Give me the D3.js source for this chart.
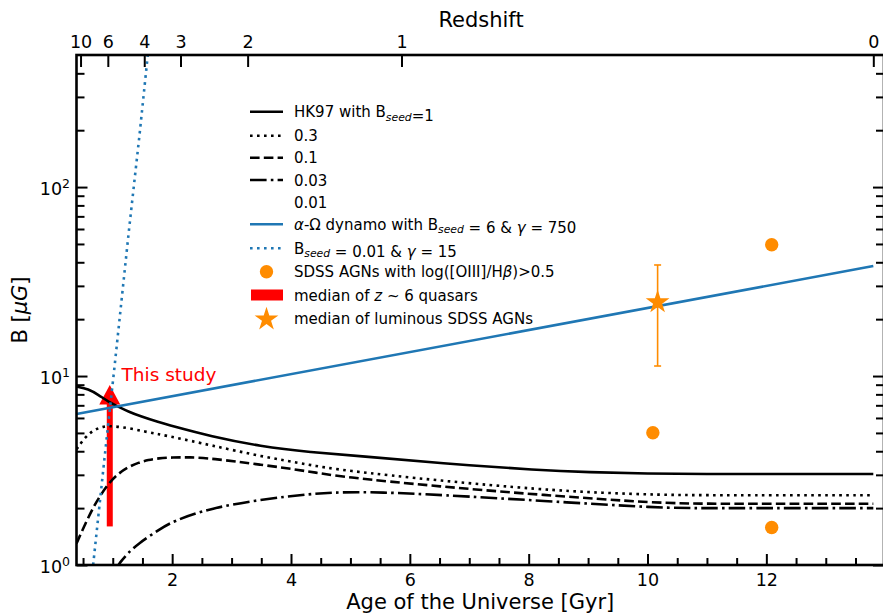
<!DOCTYPE html>
<html><head><meta charset="utf-8">
<script src="https://cdn.jsdelivr.net/npm/d3@7"></script>
<style>
body{margin:0;background:#fff}
svg{display:block;font-family:"DejaVu Sans",sans-serif}
</style>
</head><body>
<svg id="c" width="883" height="615"></svg>
<script>
// ---------------- data ----------------
const hk1Age  = [0.39,0.59,0.76,0.93,1.10,1.27,1.47,1.77,2.0,2.64,3.49,4.33,5.17,6.51,8.2,9.0,10.0,11.0,12.0,13.8];
const hk1B    = [8.8,8.55,7.95,7.3,6.87,6.47,6.12,5.7,5.44,4.8,4.24,3.95,3.77,3.45,3.17,3.1,3.04,3.03,3.03,3.03];
const hk03Age = [0.39,0.54,0.68,0.84,1.01,1.27,1.55,1.77,2.0,2.64,3.49,4.33,4.83,6.51,8.2,9.2,10.21,11,12,13.8];
const hk03B   = [4.1,4.77,5.18,5.42,5.44,5.3,5.08,4.92,4.77,4.31,3.76,3.38,3.18,2.79,2.51,2.41,2.35,2.34,2.34,2.34];
const hk01Age = [0.39,0.54,0.68,0.76,0.93,1.10,1.27,1.43,1.6,1.77,2.0,2.3,2.64,3.49,4.33,4.83,6.51,8.2,10.21,11,12,13.8];
const hk01B   = [1.3,1.66,2.04,2.25,2.71,3.06,3.31,3.48,3.6,3.67,3.71,3.72,3.67,3.4,3.12,2.93,2.60,2.35,2.12,2.11,2.11,2.11];
const hk003Age= [1.05,1.13,1.25,1.43,1.77,2.0,2.64,3.49,4.33,4.83,5.5,6.51,8.2,10.21,11,12,13.8];
const hk003B  = [0.95,1.04,1.15,1.3,1.53,1.7,2.0,2.22,2.38,2.43,2.43,2.35,2.19,2.0,2.0,2.0,2.0];
const dynAge  = [0.39,13.8];
const dynB    = [6.3,38.2];
const dyn2Age = [0.67,0.87,1.03,1.27,1.45,1.59,1.63];
const dyn2B   = [1.0,3.9,11.2,58,188,500,650];
const sdssAge = [12.09,10.09,12.09];
const sdssB   = [49.5,5.01,1.58];
const starAge = 10.17, starB = 24.6, starLo = 11.3, starHi = 38.7;
const qsoAge = 0.95, qsoFrom = 1.6, qsoTo = 8.96;
const zLabels = ["10","6","4","3","2","1","0"];
const zAges   = [0.458,0.917,1.53,2.14,3.27,5.86,13.8];
const xMajor  = [2,4,6,8,10,12];
const yMajor  = [1,10,100];
const yMinor  = [2,3,4,5,6,7,8,9,20,30,40,50,60,70,80,90,200,300,400];

// ---------------- setup ----------------
const svg = d3.select("#c");
const L=76.5, R=884, T=55, B=565;
const x = d3.scaleLinear().domain([0.39,13.98]).range([L,R]);
const y = d3.scaleLog().domain([1,500]).range([B,T]);
const BLUE="#1f77b4", ORANGE="#ff8c00", RED="#ff0000";

svg.append("defs").append("clipPath").attr("id","clip")
  .append("rect").attr("x",L).attr("y",T).attr("width",R-L).attr("height",B-T);

const plot = svg.append("g").attr("clip-path","url(#clip)");

// red arrow (below lines)
const ax = x(qsoAge), ay0 = y(qsoFrom), ay1 = y(qsoTo);
plot.append("rect").attr("x",ax-3).attr("y",ay1+18).attr("width",6).attr("height",ay0-ay1-18).attr("fill",RED);
plot.append("path").attr("d",`M${ax-10.5},${ay1+19.5}L${ax+10.5},${ay1+19.5}L${ax},${ay1}Z`).attr("fill",RED);

const lineS = d3.line().x(d=>x(d[0])).y(d=>y(d[1])).curve(d3.curveBasis);
const lineL = d3.line().x(d=>x(d[0])).y(d=>y(d[1]));
const zip = (a,b)=>a.map((v,i)=>[v,b[i]]);
const LW=2.6;
const series = [
  {a:hk1Age,b:hk1B,c:"#000",dash:null,f:lineS},
  {a:hk03Age,b:hk03B,c:"#000",dash:"2.6,4.4",f:lineS},
  {a:hk01Age,b:hk01B,c:"#000",dash:"9.6,4.2",f:lineS},
  {a:hk003Age,b:hk003B,c:"#000",dash:"16.6,4.2,2.6,4.2",f:lineS},
  {a:dynAge,b:dynB,c:BLUE,dash:null,f:lineL},
  {a:dyn2Age,b:dyn2B,c:BLUE,dash:"2.6,4.4",f:lineL}
];
series.forEach(s=>{
  plot.append("path").attr("d",s.f(zip(s.a,s.b))).attr("fill","none")
    .attr("stroke",s.c).attr("stroke-width",LW).attr("stroke-dasharray",s.dash);
});

// SDSS points
plot.selectAll("circle.sdss").data(zip(sdssAge,sdssB)).enter().append("circle")
  .attr("cx",d=>x(d[0])).attr("cy",d=>y(d[1])).attr("r",6.7).attr("fill",ORANGE);

// star with error bar
const sx=x(starAge);
plot.append("line").attr("x1",sx).attr("x2",sx).attr("y1",y(starLo)).attr("y2",y(starHi)).attr("stroke",ORANGE).attr("stroke-width",1.6);
[starLo,starHi].forEach(v=>plot.append("line").attr("x1",sx-3.5).attr("x2",sx+3.5).attr("y1",y(v)).attr("y2",y(v)).attr("stroke",ORANGE).attr("stroke-width",1.6));
const starPath = d3.symbol().type(d3.symbolStar).size(175)();
plot.append("path").attr("d",starPath).attr("transform",`translate(${sx},${y(starB)})`).attr("fill",ORANGE);

// This study
svg.append("text").attr("x",121.5).attr("y",381).attr("fill",RED).attr("font-size",18.5).text("This study");

// ---------------- axes ----------------
function styleAxis(g){ g.select(".domain").remove(); g.selectAll(".tick line").attr("stroke","#000").attr("stroke-width",2); g.selectAll("text").attr("fill","#000"); }

// bottom
const xMinor = d3.range(0.5,14,0.5).filter(v=>v%2!==0 && v>=0.39 && v<=13.98);
svg.append("g").attr("transform",`translate(0,${B})`)
  .call(d3.axisBottom(x).tickValues(xMinor).tickSize(-7).tickFormat("")).call(styleAxis);
svg.append("g").attr("transform",`translate(0,${B})`)
  .call(d3.axisBottom(x).tickValues(xMajor).tickSize(-11).tickPadding(9).tickFormat(d3.format("d")))
  .call(styleAxis).selectAll("text").attr("font-size",17.5).attr("font-family","DejaVu Sans");

// top (redshift)
svg.append("g").attr("transform",`translate(0,${T})`)
  .call(d3.axisTop(x).tickValues(zAges).tickSize(-12).tickPadding(7).tickFormat((d,i)=>zLabels[i]))
  .call(styleAxis).selectAll("text").attr("font-size",17.5).attr("font-family","DejaVu Sans");

// left
svg.append("g").attr("transform",`translate(${L},0)`)
  .call(d3.axisLeft(y).tickValues(yMinor).tickSize(-8).tickFormat("")).call(styleAxis);
svg.append("g").attr("transform",`translate(${L},0)`)
  .call(d3.axisLeft(y).tickValues(yMajor).tickSize(-11).tickFormat("")).call(styleAxis);
yMajor.forEach(v=>{
  const t = svg.append("text").attr("x",70).attr("y",y(v)+7.5).attr("text-anchor","end").attr("font-size",17.5);
  t.append("tspan").text("10");
  t.append("tspan").attr("dy",-7).attr("font-size",12.5).text(String(Math.round(Math.log10(v))));
});

// right
svg.append("g").attr("transform",`translate(${R},0)`)
  .call(d3.axisRight(y).tickValues(yMinor).tickSize(-8).tickFormat("")).call(styleAxis);
svg.append("g").attr("transform",`translate(${R},0)`)
  .call(d3.axisRight(y).tickValues(yMajor).tickSize(-11).tickFormat("")).call(styleAxis);

// spines
svg.append("rect").attr("x",L).attr("y",T).attr("width",R-L).attr("height",B-T)
  .attr("fill","none").attr("stroke","#000").attr("stroke-width",2.6);

// axis titles
svg.append("text").attr("x",(L+R)/2).attr("y",609).attr("text-anchor","middle").attr("font-size",21).text("Age of the Universe [Gyr]");
svg.append("text").attr("x",481).attr("y",27).attr("text-anchor","middle").attr("font-size",21).text("Redshift");
const yl = svg.append("text").attr("transform","translate(27,310) rotate(-90)").attr("text-anchor","middle").attr("font-size",21);
yl.append("tspan").text("B [");
yl.append("tspan").attr("font-style","italic").text("μG");
yl.append("tspan").text("]");

// ---------------- legend ----------------
const legRows = [111.7,135.7,157.7,180,202.3,224.3,248.3,271.7,295,318.3];
const hx0=250, hx1=283, tx=294, FS=15;
const lg = svg.append("g").attr("font-size",FS);
function row(i){ return lg.append("text").attr("x",tx).attr("y",legRows[i]+5.5); }
function sub(t,s){ t.append("tspan").attr("font-size",FS*0.72).attr("font-style","italic").attr("dy",3.5).text(s); t.append("tspan").attr("dy",-3.5).text(""); }
const legLines = [
  {i:0,c:"#000",dash:null},{i:1,c:"#000",dash:"2.6,4.4"},{i:2,c:"#000",dash:"9.6,4.2"},
  {i:3,c:"#000",dash:"16.6,4.2,2.6,4.2"},{i:5,c:BLUE,dash:null},{i:6,c:BLUE,dash:"2.6,4.4"}
];
legLines.forEach(l=>lg.append("line").attr("x1",hx0).attr("x2",hx1).attr("y1",legRows[l.i]).attr("y2",legRows[l.i])
  .attr("stroke",l.c).attr("stroke-width",LW).attr("stroke-dasharray",l.dash));
let t;
t=row(0); t.append("tspan").text("HK97 with B"); sub(t,"seed"); t.append("tspan").text("=1");
row(1).text("0.3"); row(2).text("0.1"); row(3).text("0.03"); row(4).text("0.01");
t=row(5); t.append("tspan").attr("font-style","italic").text("α"); t.append("tspan").text("-Ω dynamo with B"); sub(t,"seed");
t.append("tspan").text(" = 6 & "); t.append("tspan").attr("font-style","italic").text("γ"); t.append("tspan").text(" = 750");
t=row(6); t.append("tspan").text("B"); sub(t,"seed"); t.append("tspan").text(" = 0.01 & "); t.append("tspan").attr("font-style","italic").text("γ"); t.append("tspan").text(" = 15");
lg.append("circle").attr("cx",(hx0+hx1)/2).attr("cy",legRows[7]).attr("r",6.7).attr("fill",ORANGE);
t=row(7); t.append("tspan").text("SDSS AGNs with log([OIII]/H"); t.append("tspan").attr("font-style","italic").text("β"); t.append("tspan").text(")>0.5");
lg.append("rect").attr("x",251).attr("y",legRows[8]-5.5).attr("width",32).attr("height",11).attr("fill",RED);
t=row(8); t.append("tspan").text("median of "); t.append("tspan").attr("font-style","italic").text("z"); t.append("tspan").text(" ~ 6 quasars");
lg.append("path").attr("d",starPath).attr("transform",`translate(${(hx0+hx1)/2},${legRows[9]+1})`).attr("fill",ORANGE);
row(9).text("median of luminous SDSS AGNs");
</script>
</body></html>
